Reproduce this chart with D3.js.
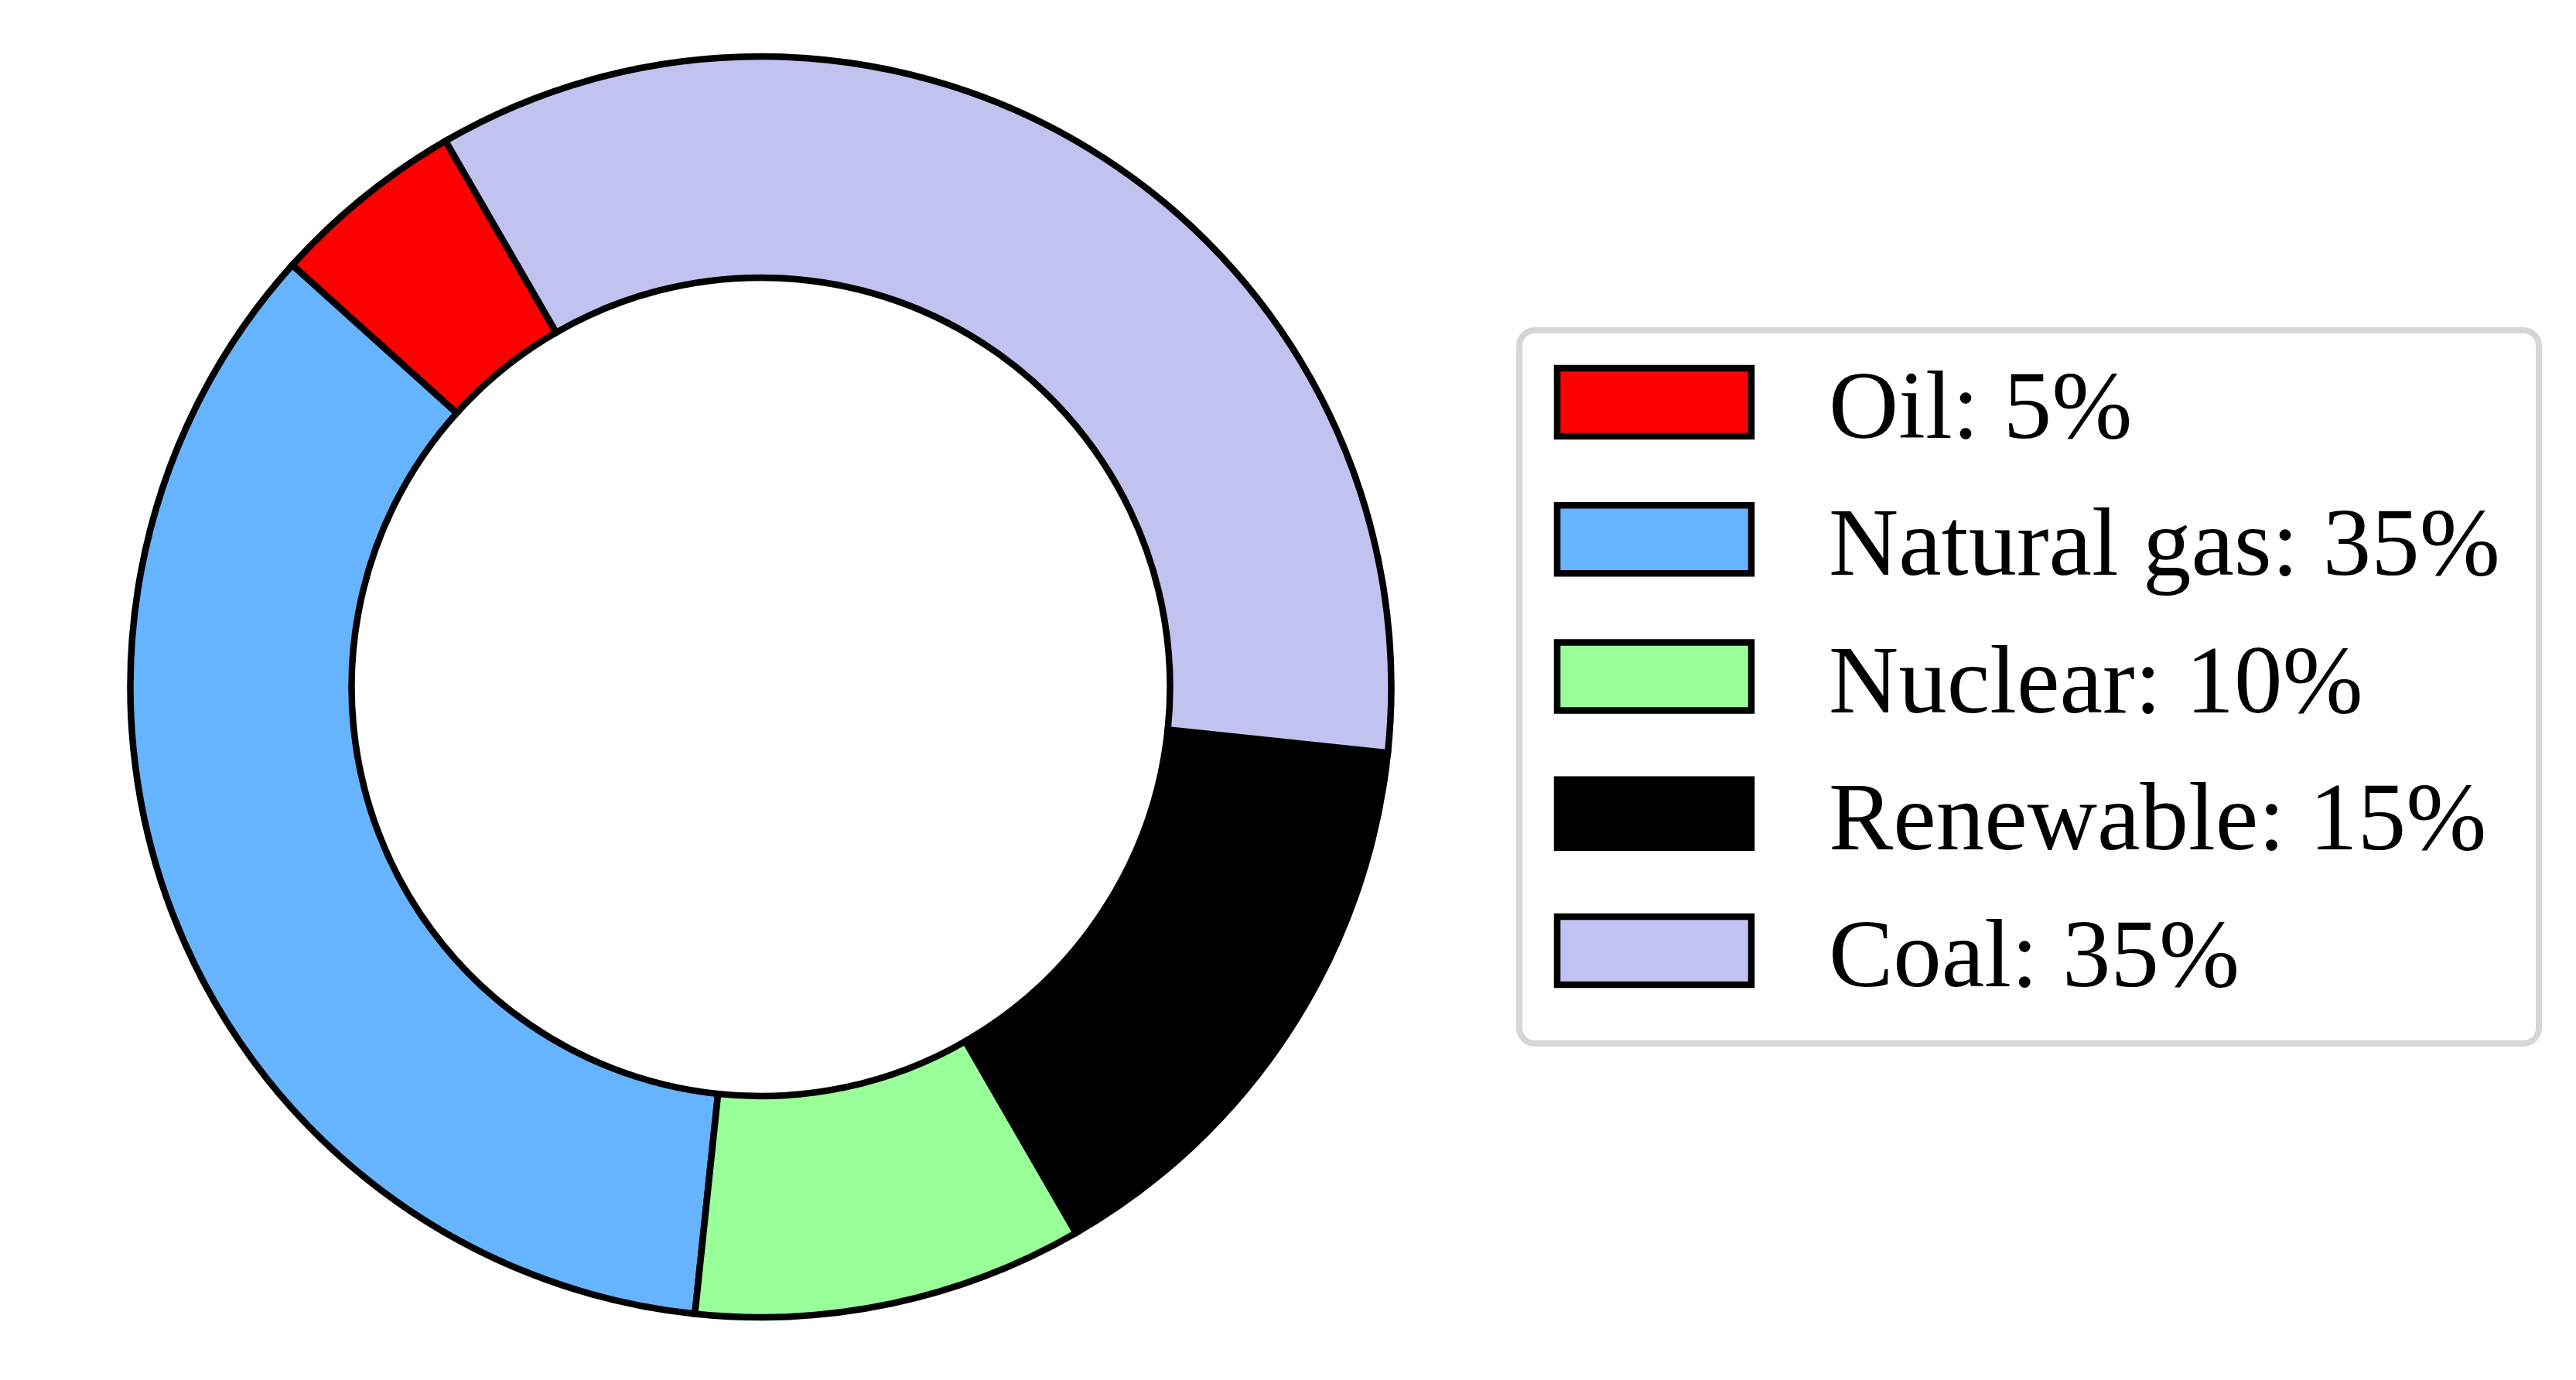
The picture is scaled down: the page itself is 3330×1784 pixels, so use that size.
<!DOCTYPE html>
<html>
<head>
<meta charset="utf-8">
<script src="https://cdn.jsdelivr.net/npm/d3@7"></script>
<style>
  html, body { margin: 0; padding: 0; background: #fff; }
  svg { display: block; }
</style>
</head>
<body>
<div id="chart"></div>
<script>
// data
const categories = ["Oil", "Natural gas", "Nuclear", "Renewable", "Coal"];
const shares = [5, 35, 10, 15, 35];
const colors = ["#ff0000", "#66b3ff", "#99ff99", "#000000", "#c2c2f0"];

const width = 3330;
const height = 1784;

const svg = d3.select("#chart")
  .append("svg")
  .attr("width", width)
  .attr("height", height);

const color = d3.scaleOrdinal().domain(categories).range(colors);

// donut
const cx = 983.5, cy = 888;
const outerR = 815, innerR = 529;
const start = -30 * Math.PI / 180; // slices go counter-clockwise

const pie = d3.pie()
  .sort(null)
  .value(d => d.value)
  .startAngle(start)
  .endAngle(start - 2 * Math.PI);

const arc = d3.arc().innerRadius(innerR).outerRadius(outerR);

const rows = categories.map((c, i) => ({ name: c, value: shares[i] }));

svg.append("g")
  .attr("transform", `translate(${cx},${cy})`)
  .selectAll("path")
  .data(pie(rows))
  .enter().append("path")
  .attr("d", arc)
  .attr("fill", d => color(d.data.name))
  .attr("stroke", "#000")
  .attr("stroke-width", 8.5)
  .attr("stroke-linejoin", "miter");

// legend
const lx = 1964, ly = 427, lw = 3282 - 1964, lh = 1349 - 427;
const legend = svg.append("g");

legend.append("rect")
  .attr("x", lx).attr("y", ly)
  .attr("width", lw).attr("height", lh)
  .attr("rx", 20).attr("ry", 20)
  .attr("fill", "#fff")
  .attr("stroke", "#d6d6d6")
  .attr("stroke-width", 8);

const rowY = d3.scaleLinear().domain([0, categories.length - 1]).range([520, 1229]);

const item = legend.selectAll("g.item")
  .data(rows)
  .enter().append("g")
  .attr("class", "item")
  .attr("transform", (d, i) => `translate(0,${rowY(i)})`);

item.append("rect")
  .attr("x", 2013).attr("y", -44)
  .attr("width", 251).attr("height", 88)
  .attr("fill", d => color(d.name))
  .attr("stroke", "#000")
  .attr("stroke-width", 8.5);

item.append("text")
  .attr("x", 2364)
  .attr("y", 46)
  .style("font-family", "'Liberation Serif', 'Times New Roman', serif")
  .style("font-size", "125px")
  .style("fill", "#000")
  .text(d => `${d.name}: ${d.value}%`);
</script>
</body>
</html>
